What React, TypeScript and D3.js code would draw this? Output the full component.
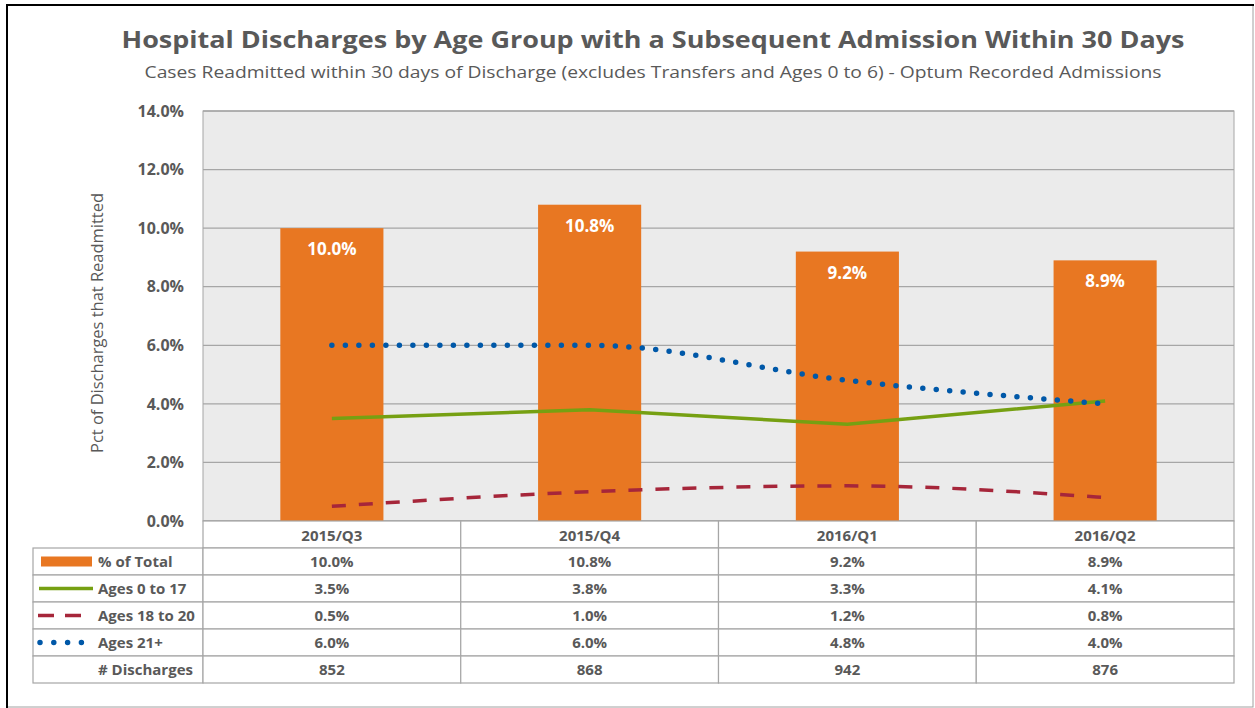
import React from "react";
import * as d3 from "d3";

const categories = ["2015/Q3", "2015/Q4", "2016/Q1", "2016/Q2"];
const pctTotal = [10.0, 10.8, 9.2, 8.9];
const ages0to17 = [3.5, 3.8, 3.3, 4.1];
const ages18to20 = [0.5, 1.0, 1.2, 0.8];
const ages21plus = [6.0, 6.0, 4.8, 4.0];
const discharges = [852, 868, 942, 876];
const yTicks = [0, 2, 4, 6, 8, 10, 12, 14];

const W = 1255;
const H = 708;
const plotL = 203;
const plotR = 1234;
const plotT = 111;
const plotB = 521;
const tableL = 33;
const rowH = 27;

const TXT = "#595959";
const GRID = "#a6a6a6";
const ORANGE = "#E87722";
const GREEN = "#76A012";
const RED = "#A6263A";
const BLUE = "#0058A8";
const FONT = "'Open Sans', 'Noto Sans', sans-serif";

export default function App() {
  const x = d3
    .scaleBand<string>()
    .domain(categories)
    .range([plotL, plotR])
    .paddingInner(0.6)
    .paddingOuter(0.3);
  const y = d3.scaleLinear().domain([0, 14]).range([plotB, plotT]);
  const step = x.step();
  const cx = (c: string) => (x(c) as number) + x.bandwidth() / 2;
  const colL = (i: number) => plotL + i * step;

  const mk = (vals: number[], curve: d3.CurveFactory) =>
    d3
      .line<number>()
      .x((_, i) => cx(categories[i]))
      .y((v) => y(v))
      .curve(curve)(vals) as string;

  const fmt = (v: number) => v.toFixed(1) + "%";

  const rows = [
    { label: "% of Total", vals: pctTotal.map(fmt), key: "bar" },
    { label: "Ages 0 to 17", vals: ages0to17.map(fmt), key: "green" },
    { label: "Ages 18 to 20", vals: ages18to20.map(fmt), key: "red" },
    { label: "Ages 21+", vals: ages21plus.map(fmt), key: "blue" },
    { label: "# Discharges", vals: discharges.map((d) => String(d)), key: "none" },
  ];
  const headerTop = plotB;
  const bodyTop = plotB + rowH;

  return (
    <svg
      width={W}
      height={H}
      style={{ position: "absolute", left: 0, top: 0, background: "#fff" }}
      fontFamily={FONT}
    >
      {/* frame */}
      <rect x={7} y={5} width={1246} height={702} fill="#fff" stroke="#a0a0a0" strokeWidth={1} />
      <line x1={7} y1={4} x2={7} y2={708} stroke="#000" strokeWidth={2} />
      <line x1={6} y1={5} x2={1254} y2={5} stroke="#000" strokeWidth={2} />

      {/* titles */}
      <text x={653} y={48} textAnchor="middle" fontSize={23} fontWeight="bold" fill={TXT} textLength={1063} lengthAdjust="spacingAndGlyphs">
        Hospital Discharges by Age Group with a Subsequent Admission Within 30 Days
      </text>
      <text x={653} y={78} textAnchor="middle" fontSize={17} fill={TXT} textLength={1017} lengthAdjust="spacingAndGlyphs">
        Cases Readmitted within 30 days of Discharge (excludes Transfers and Ages 0 to 6) - Optum Recorded Admissions
      </text>

      {/* plot area */}
      <rect x={plotL} y={plotT} width={plotR - plotL} height={plotB - plotT} fill="#ebebeb" stroke={GRID} strokeWidth={1} />
      {yTicks.map((t) => (
        <g key={t}>
          <line x1={plotL} x2={plotR} y1={y(t)} y2={y(t)} stroke={GRID} strokeWidth={1.3} />
          <text x={184} y={y(t)} dy="0.36em" textAnchor="end" fontSize={16} fontWeight="bold" fill={TXT}>
            {t.toFixed(1)}%
          </text>
        </g>
      ))}
      <text
        transform={`translate(103,323) rotate(-90)`}
        textAnchor="middle"
        fontSize={16}
        fill={TXT}
        textLength={260}
        lengthAdjust="spacingAndGlyphs"
      >
        Pct of Discharges that Readmitted
      </text>

      {/* bars */}
      {categories.map((c, i) => (
        <g key={c}>
          <rect x={x(c)} y={y(pctTotal[i])} width={x.bandwidth()} height={y(0) - y(pctTotal[i])} fill={ORANGE} />
          <text x={cx(c)} y={y(pctTotal[i]) + 27} textAnchor="middle" fontSize={17} fontWeight="bold" fill="#fff">
            {fmt(pctTotal[i])}
          </text>
        </g>
      ))}

      {/* lines */}
      <path d={mk(ages18to20, d3.curveMonotoneX)} fill="none" stroke={RED} strokeWidth={3.5} strokeDasharray="14 13" />
      <path d={mk(ages0to17, d3.curveLinear)} fill="none" stroke={GREEN} strokeWidth={3.5} />
      <path d={mk(ages21plus, d3.curveMonotoneX)} fill="none" stroke={BLUE} strokeWidth={5.5} strokeLinecap="round" strokeDasharray="0 13.5" />

      {/* data table */}
      <g>
        {categories.map((c, i) => (
          <g key={c}>
            <rect x={colL(i)} y={headerTop} width={step} height={rowH} fill="#fff" stroke={GRID} strokeWidth={1.2} />
            <text x={cx(c)} y={headerTop + rowH / 2 + 1} dy="0.36em" textAnchor="middle" fontSize={15} fontWeight="bold" fill={TXT}>
              {c}
            </text>
          </g>
        ))}
        {rows.map((r, ri) => {
          const ry = bodyTop + ri * rowH;
          const my = ry + rowH / 2;
          return (
            <g key={r.label}>
              <rect x={tableL} y={ry} width={plotL - tableL} height={rowH} fill="#fff" stroke={GRID} strokeWidth={1.2} />
              {categories.map((c, i) => (
                <g key={c}>
                  <rect x={colL(i)} y={ry} width={step} height={rowH} fill="#fff" stroke={GRID} strokeWidth={1.2} />
                  <text x={cx(c)} y={my} dy="0.36em" textAnchor="middle" fontSize={15} fontWeight="bold" fill={TXT}>
                    {r.vals[i]}
                  </text>
                </g>
              ))}
              {r.key === "bar" && <rect x={41} y={my - 5} width={51} height={10} fill={ORANGE} />}
              {r.key === "green" && <line x1={39} x2={93} y1={my} y2={my} stroke={GREEN} strokeWidth={3.5} />}
              {r.key === "red" && (
                <line x1={38} x2={84} y1={my} y2={my} stroke={RED} strokeWidth={3.5} strokeDasharray="16 11" />
              )}
              {r.key === "blue" && (
                <line x1={40} x2={84} y1={my} y2={my} stroke={BLUE} strokeWidth={5.5} strokeLinecap="round" strokeDasharray="0 13.8" />
              )}
              <text x={98} y={my} dy="0.36em" fontSize={15} fontWeight="bold" fill={TXT}>
                {r.label}
              </text>
            </g>
          );
        })}
      </g>
    </svg>
  );
}
